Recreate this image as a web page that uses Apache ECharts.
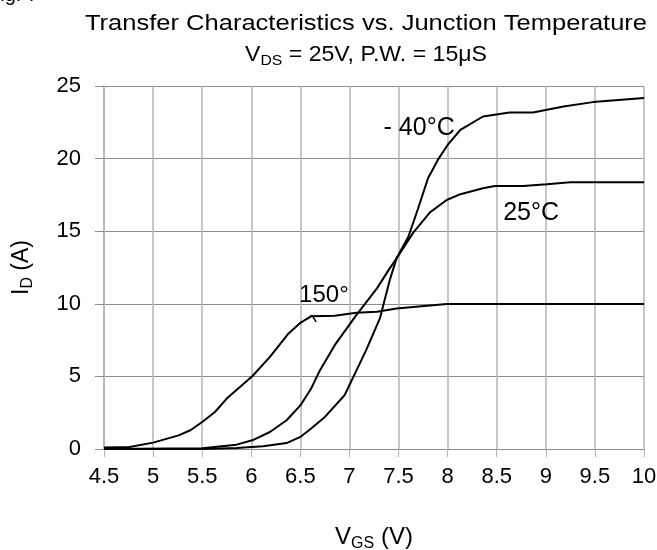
<!DOCTYPE html>
<html>
<head>
<meta charset="utf-8">
<script src="https://cdn.jsdelivr.net/npm/echarts@6/dist/echarts.min.js"></script>
<style>
  html, body { margin: 0; padding: 0; background: #fff; }
  #chart { width: 657px; height: 550px; }
</style>
</head>
<body>
<div id="chart"></div>
<script>
// Transfer characteristics: drain current vs gate-source voltage at three junction temperatures
const xTicks = [4.5, 5, 5.5, 6, 6.5, 7, 7.5, 8, 8.5, 9, 9.5, 10];
const yTicks = [0, 5, 10, 15, 20, 25];

const vgsMinus40 = [4.5, 5.0, 5.5, 5.85, 6.12, 6.36, 6.5, 6.61, 6.75, 6.95, 7.04, 7.17, 7.31, 7.41, 7.48, 7.6, 7.7, 7.8, 7.9, 8.0, 8.13, 8.36, 8.63, 8.87, 9.18, 9.48, 10];
const idMinus40  = [0, 0, 0, 0.07, 0.19, 0.41, 0.83, 1.41, 2.21, 3.7, 4.97, 6.81, 8.99, 11.63, 13.13, 14.62, 16.58, 18.65, 19.91, 20.94, 21.98, 22.9, 23.17, 23.17, 23.59, 23.89, 24.17];

const vgs25 = [4.5, 5.5, 5.85, 6.01, 6.19, 6.36, 6.5, 6.61, 6.7, 6.85, 7.07, 7.28, 7.41, 7.48, 7.65, 7.82, 7.99, 8.13, 8.36, 8.48, 8.77, 9.01, 9.25, 10];
const id25  = [0, 0.05, 0.3, 0.6, 1.17, 1.98, 3.0, 4.17, 5.43, 7.15, 9.22, 11.06, 12.44, 13.13, 14.9, 16.3, 17.15, 17.55, 17.96, 18.12, 18.12, 18.23, 18.37, 18.37];

const vgs150 = [4.5, 4.76, 5.0, 5.26, 5.38, 5.5, 5.63, 5.75, 6.01, 6.19, 6.38, 6.5, 6.61, 6.85, 7.07, 7.28, 7.48, 7.99, 10];
const id150  = [0.1, 0.14, 0.44, 0.94, 1.29, 1.86, 2.55, 3.47, 5.01, 6.35, 7.96, 8.69, 9.15, 9.17, 9.38, 9.45, 9.68, 9.98, 9.98];

// curve labels: [text, vgs, id, font size]
const curveLabels = [
  ['- 40°C', 7.71, 22.1, 25],
  ['25°C', 8.85, 16.25, 25],
  ['150°', 6.74, 10.6, 24]
];
// short leader tick on the 150° curve
const leaderVgs = [6.57, 6.62, 6.66];
const leaderId  = [8.95, 9.2, 8.75];

const FONT = '"Liberation Sans", Arial, sans-serif';
const zip = (xs, ys) => xs.map((x, i) => [x, ys[i]]);

const chart = echarts.init(document.getElementById('chart'), null, { renderer: 'canvas' });

const lineStyle = { color: '#000', width: 2 };
const curve = (name, xs, ys) => ({
  name, type: 'line', data: zip(xs, ys), symbol: 'none',
  lineStyle, silent: true, animation: false, z: 3
});

const subRich = (main) => ({
  m: { fontSize: main, fontFamily: FONT, color: '#000' },
  s: { fontSize: Math.round(main * 0.68), fontFamily: FONT, color: '#000', padding: [Math.round(main * 0.55), 0, 0, 0] }
});

chart.setOption({
  animation: false,
  backgroundColor: '#fff',
  textStyle: { fontFamily: FONT },
  grid: { left: 104, right: 13, top: 86, bottom: 101, containLabel: false, outerBoundsMode: 'none' },
  graphic: [
    {
      type: 'text', left: -12, top: -15,
      style: { text: 'Fig. 7', font: '20px ' + FONT, fill: '#000' }
    },
    {
      type: 'text', x: 366, y: 24, scaleX: 1.16,
      style: {
        text: 'Transfer Characteristics vs. Junction Temperature',
        font: '22px ' + FONT, fill: '#000', align: 'center', verticalAlign: 'middle'
      }
    },
    {
      type: 'text', x: 366, y: 55, scaleX: 1.05,
      style: {
        text: '{m|V}{s|DS}{m| = 25V, P.W. = 15μS}',
        fill: '#000', align: 'center', verticalAlign: 'middle',
        rich: subRich(22)
      }
    }
  ],
  xAxis: {
    type: 'value', min: 4.5, max: 10, interval: 0.5,
    axisLine: { show: true, lineStyle: { color: '#8c8c8c', width: 1 } },
    axisTick: { show: true, length: 8, lineStyle: { color: '#b4b4b4' } },
    splitLine: { show: true, lineStyle: { color: '#b4b4b4', width: 1.5 } },
    axisLabel: {
      margin: 17, fontSize: 22, color: '#000', fontFamily: FONT,
      formatter: v => { const t = xTicks.find(k => Math.abs(k - v) < 1e-6); return t === undefined ? '' : String(t); }
    },
    name: '{m|V}{s|GS}{m| (V)}', nameLocation: 'middle', nameGap: 74,
    nameTextStyle: { rich: subRich(24) }
  },
  yAxis: {
    type: 'value', min: 0, max: 25, interval: 5,
    axisLine: { show: true, lineStyle: { color: '#b4b4b4', width: 1.5 } },
    axisTick: { show: true, length: 9, lineStyle: { color: '#8c8c8c' } },
    splitLine: { show: true, lineStyle: { color: '#8c8c8c', width: 1 } },
    axisLabel: {
      margin: 23, fontSize: 22, color: '#000', fontFamily: FONT,
      formatter: v => { const t = yTicks.find(k => Math.abs(k - v) < 1e-6); return t === undefined ? '' : String(t); }
    },
    name: '{m|I}{s|D}{m| (A)}', nameLocation: 'middle', nameGap: 68, nameRotate: 90,
    nameTextStyle: { rich: subRich(23) }
  },
  series: [
    curve('-40°C', vgsMinus40, idMinus40),
    curve('25°C', vgs25, id25),
    Object.assign(curve('150°C', vgs150, id150), {
      markPoint: {
        symbol: 'circle', symbolSize: 0, silent: true,
        label: { show: true, position: 'inside', color: '#000', fontFamily: FONT, formatter: p => p.name },
        data: curveLabels.map(([t, x, y, fs]) => ({ name: t, coord: [x, y], label: { fontSize: fs } }))
      }
    }),
    {
      type: 'line', data: zip(leaderVgs, leaderId), symbol: 'none',
      lineStyle: { color: '#000', width: 1.5 }, silent: true, z: 3
    }
  ]
});
</script>
</body>
</html>
